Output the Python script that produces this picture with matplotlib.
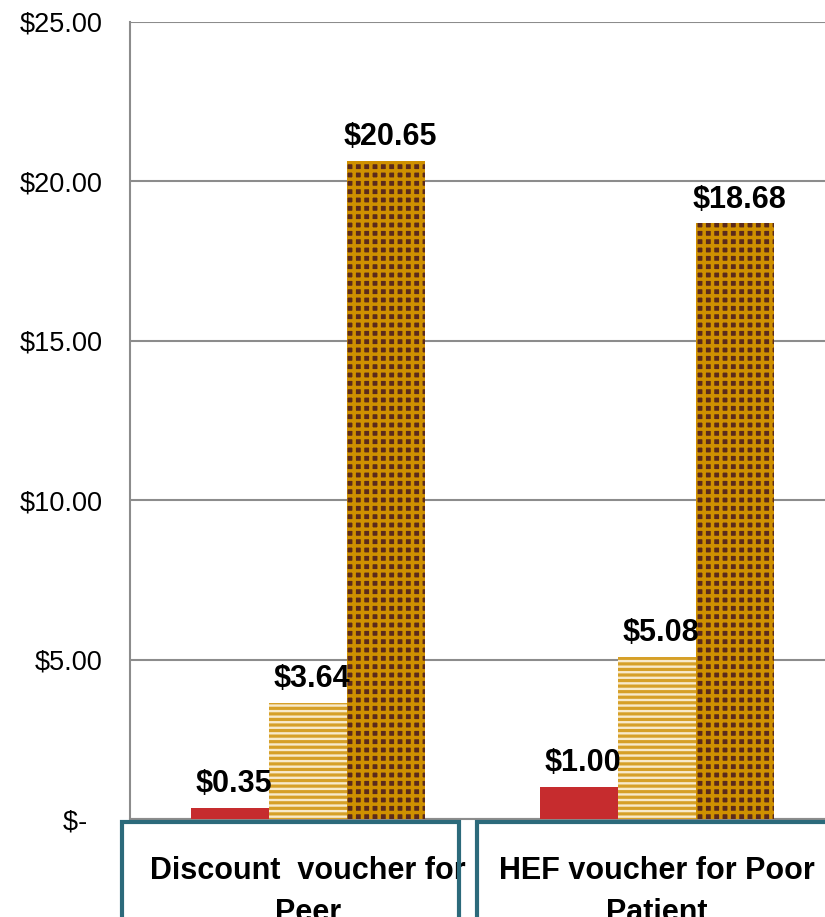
import matplotlib
matplotlib.use("Agg")
import matplotlib.pyplot as plt
from matplotlib.patches import Rectangle
import numpy as np

plt.rcParams['font.family'] = ['Liberation Sans', 'DejaVu Sans']

# data
categories = [["Discount  voucher for", "Peer"], ["HEF voucher for Poor", "Patient"]]
series1 = [0.35, 1.00]
series2 = [3.64, 5.08]
series3 = [20.65, 18.68]
value_labels = [["$0.35", "$1.00"], ["$3.64", "$5.08"], ["$20.65", "$18.68"]]
yticks = [0, 5, 10, 15, 20, 25]
ytick_labels = ["$-  ", "$5.00", "$10.00", "$15.00", "$20.00", "$25.00"]

red = '#C62C2E'
gold = '#D6A028'
cream = '#F8EACB'
brown = '#5B2A1C'
gold2 = '#CF9000'
teal = '#2C6A7B'
grid_c = '#8C8C8C'

fig = plt.figure(figsize=(8.25, 9.17), dpi=100)
ax = fig.add_axes([130 / 825, 98 / 917, 698 / 825, 797 / 917])

x = np.arange(len(categories))
w = 0.2235

b1 = ax.bar(x - w, series1, w, color=red, linewidth=0, zorder=3)
b2 = ax.bar(x, series2, w, color=cream, edgecolor=gold, hatch='---', linewidth=0, zorder=3)
b3 = ax.bar(x + w, series3, w, color=brown, edgecolor=gold2, hatch='++', linewidth=0, zorder=3)
for p in b2:
    if hasattr(p, 'set_hatch_linewidth'):
        p.set_hatch_linewidth(2.3)
for p in b3:
    if hasattr(p, 'set_hatch_linewidth'):
        p.set_hatch_linewidth(2.5)

for bars, labs in zip([b1, b2, b3], value_labels):
    for p, lab in zip(bars, labs):
        ax.annotate(lab, (p.get_x() + p.get_width() / 2, p.get_height()),
                    xytext=(3, 11.5), textcoords='offset points',
                    ha='center', va='baseline', fontsize=22, fontweight='bold',
                    zorder=5)

ax.set_xlim(-0.51, 1.49)
ax.set_ylim(0, 25)
ax.set_yticks(yticks)
ax.set_yticklabels(ytick_labels, fontsize=19.5)
ax.tick_params(axis='y', length=0, pad=20)
ax.set_xticks([])
ax.yaxis.grid(True, color=grid_c, linewidth=1.5, zorder=0)
ax.set_axisbelow(True)
for s in ['top', 'right']:
    ax.spines[s].set_visible(False)
for s in ['left', 'bottom']:
    ax.spines[s].set_color(grid_c)
    ax.spines[s].set_linewidth(1.5)

# category boxes below the axis
trans = ax.get_xaxis_transform()
box_left = [-0.533, 0.485]
box_width = [0.965, 1.1]
for i, cat in enumerate(categories):
    ax.text(x[i], -0.0753, cat[0], transform=trans, ha='center', va='baseline',
            fontsize=22, fontweight='bold', clip_on=False, zorder=4)
    ax.text(x[i], -0.128, cat[1], transform=trans, ha='center', va='baseline',
            fontsize=22, fontweight='bold', clip_on=False, zorder=4)
    ax.add_patch(Rectangle((box_left[i], -0.2), box_width[i], 0.2 - 0.0038,
                           transform=trans, fill=False, edgecolor=teal,
                           linewidth=3, clip_on=False, zorder=6))

fig.savefig("out.png", dpi=100)
